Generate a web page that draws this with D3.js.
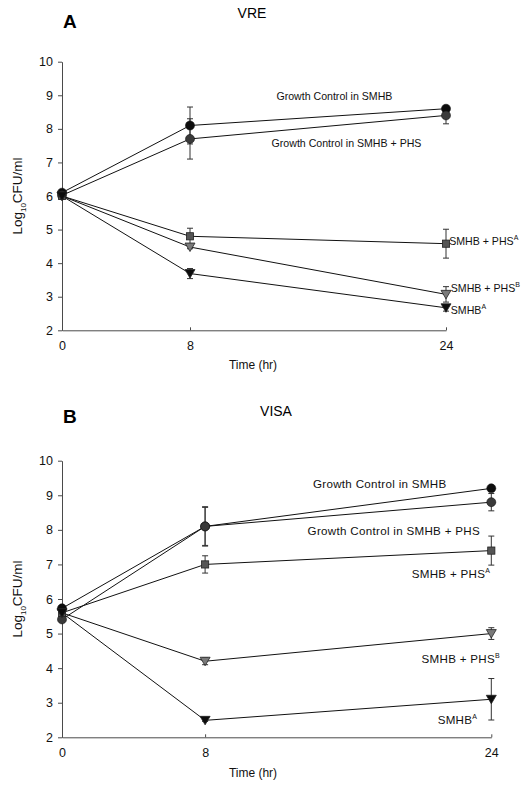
<!DOCTYPE html>
<html>
<head>
<meta charset="utf-8">
<script src="https://cdn.jsdelivr.net/npm/d3@7"></script>
<style>
  html, body { margin: 0; padding: 0; background: #fff; }
  svg { display: block; font-family: "Liberation Sans", Arial, sans-serif; }
</style>
</head>
<body>
<svg id="chart" width="525" height="795"></svg>
<script>
// ---------------- DATA ----------------
const times = [0, 8, 24];
const xTickLabels = ["0", "8", "24"];
const yTickValues = [2, 3, 4, 5, 6, 7, 8, 9, 10];

const seriesKeys = ["gcSMHB", "gcPHS", "phsA", "phsB", "smhbA"];

// Panel A: VRE
const vreGcSMHB   = [6.1, 8.1, 8.6];
const vreGcPHS    = [6.02, 7.7, 8.4];
const vrePhsA     = [6.0, 4.8, 4.58];
const vrePhsB     = [6.0, 4.48, 3.07];
const vreSmhbA    = [6.0, 3.69, 2.67];
const vreErrGcSMHB = [0, 0.55, 0.05];
const vreErrGcPHS  = [0, 0.6, 0.25];
const vreErrPhsA   = [0, 0.24, 0.43];
const vreErrPhsB   = [0, 0.05, 0.23];
const vreErrSmhbA  = [0, 0.15, 0.1];

// Panel B: VISA
const visaGcSMHB  = [5.73, 8.1, 9.2];
const visaGcPHS   = [5.41, 8.1, 8.8];
const visaPhsA    = [5.6, 7.0, 7.4];
const visaPhsB    = [5.6, 4.2, 5.0];
const visaSmhbA   = [5.6, 2.49, 3.1];
const visaErrGcSMHB = [0, 0.55, 0.03];
const visaErrGcPHS  = [0, 0.57, 0.25];
const visaErrPhsA   = [0, 0.25, 0.42];
const visaErrPhsB   = [0, 0.1, 0.17];
const visaErrSmhbA  = [0, 0.03, 0.6];

// Labels: text, superscript, anchor time, anchor value
const vreLabels = [
  {text: "Growth Control in SMHB", sup: "", t: 13.4, v: 8.97},
  {text: "Growth Control in SMHB + PHS", sup: "", t: 13.1, v: 7.58},
  {text: "SMHB + PHS", sup: "A", t: 24.2, v: 4.64},
  {text: "SMHB + PHS", sup: "B", t: 24.3, v: 3.24},
  {text: "SMHB", sup: "A", t: 24.3, v: 2.6}
];
const visaLabels = [
  {text: "Growth Control in SMHB", sup: "", t: 14.03, v: 9.33},
  {text: "Growth Control in SMHB + PHS", sup: "", t: 13.73, v: 7.97},
  {text: "SMHB + PHS", sup: "A", t: 19.55, v: 6.72},
  {text: "SMHB + PHS", sup: "B", t: 20.1, v: 4.26},
  {text: "SMHB", sup: "A", t: 21.0, v: 2.5}
];

// ---------------- STYLE / LAYOUT ----------------
const markerStyle = {
  gcSMHB: {shape: "circle", fill: "#0d0d0d"},
  gcPHS:  {shape: "circle", fill: "#3a3a3a"},
  phsA:   {shape: "square", fill: "#555"},
  phsB:   {shape: "tri",    fill: "#7a7a7a"},
  smhbA:  {shape: "tri",    fill: "#0d0d0d"}
};

const panels = [
  {
    letter: "A", title: "VRE",
    values: [vreGcSMHB, vreGcPHS, vrePhsA, vrePhsB, vreSmhbA],
    errs: [vreErrGcSMHB, vreErrGcPHS, vreErrPhsA, vreErrPhsB, vreErrSmhbA],
    labels: vreLabels,
    x0: 62, x1: 446, yTop: 61.7, yBot: 330.3,
    letterY: 28, titleX: 252, titleY: 13,
    xLabelY: 369, labelFont: 10.6
  },
  {
    letter: "B", title: "VISA",
    values: [visaGcSMHB, visaGcPHS, visaPhsA, visaPhsB, visaSmhbA],
    errs: [visaErrGcSMHB, visaErrGcPHS, visaErrPhsA, visaErrPhsB, visaErrSmhbA],
    labels: visaLabels,
    x0: 62, x1: 491.3, yTop: 460.7, yBot: 737.3,
    letterY: 423, titleX: 276, titleY: 411,
    xLabelY: 777, labelFont: 11.6
  }
];

const svg = d3.select("#chart");
const axisColor = "#4a4a4a";

panels.forEach(p => {
  const g = svg.append("g");
  const x = d3.scaleLinear().domain([0, 24]).range([p.x0, p.x1]);
  const y = d3.scaleLinear().domain([2, 10]).range([p.yBot, p.yTop]);

  // Panel letter and title
  g.append("text").attr("x", 63).attr("y", p.letterY)
    .attr("font-weight", "bold").attr("font-size", 19).text(p.letter);
  g.append("text").attr("x", p.titleX).attr("y", p.titleY + 5)
    .attr("text-anchor", "middle").attr("font-size", 14).text(p.title);

  // Y axis
  const yAxis = d3.axisLeft(y).tickValues(yTickValues).tickFormat(d3.format("d"))
    .tickSizeInner(4).tickSizeOuter(0).tickPadding(5);
  const gy = g.append("g").attr("transform", `translate(${p.x0},0)`).call(yAxis);
  gy.selectAll("path, line").attr("stroke", axisColor);
  gy.selectAll("text").attr("font-size", 12.5).attr("fill", "#111")
    .attr("font-family", "'Liberation Sans', Arial, sans-serif");

  // X axis
  const xAxis = d3.axisBottom(x).tickValues(times).tickFormat((d, i) => xTickLabels[i])
    .tickSizeInner(-3).tickSizeOuter(0).tickPadding(11);
  const gx = g.append("g").attr("transform", `translate(0,${p.yBot})`).call(xAxis);
  gx.selectAll("path, line").attr("stroke", axisColor);
  gx.selectAll("text").attr("font-size", 12.5).attr("fill", "#111")
    .attr("font-family", "'Liberation Sans', Arial, sans-serif");

  // Axis titles
  g.append("text").attr("x", 253).attr("y", p.xLabelY)
    .attr("text-anchor", "middle").attr("font-size", 12).attr("fill", "#111")
    .text("Time (hr)");
  const yl = g.append("text")
    .attr("transform", `translate(22,${(p.yTop + p.yBot) / 2}) rotate(-90)`)
    .attr("text-anchor", "middle").attr("font-size", 13.5).attr("fill", "#111");
  yl.append("tspan").text("Log");
  yl.append("tspan").attr("font-size", 8).attr("dy", 4).text("10");
  yl.append("tspan").attr("dy", -4).text("CFU/ml");

  // Lines
  const line = d3.line().x((d, i) => x(times[i])).y(d => y(d));
  p.values.forEach(vals => {
    g.append("path").attr("d", line(vals)).attr("fill", "none")
      .attr("stroke", "#111").attr("stroke-width", 1);
  });

  // Error bars
  p.values.forEach((vals, si) => {
    vals.forEach((v, i) => {
      const e = p.errs[si][i];
      if (!e) return;
      const cx = x(times[i]);
      const eg = g.append("g").attr("stroke", "#333").attr("stroke-width", 1);
      eg.append("line").attr("x1", cx).attr("x2", cx).attr("y1", y(v - e)).attr("y2", y(v + e));
      eg.append("line").attr("x1", cx - 3).attr("x2", cx + 3).attr("y1", y(v - e)).attr("y2", y(v - e));
      eg.append("line").attr("x1", cx - 3).attr("x2", cx + 3).attr("y1", y(v + e)).attr("y2", y(v + e));
    });
  });

  // Markers
  p.values.forEach((vals, si) => {
    const st = markerStyle[seriesKeys[si]];
    vals.forEach((v, i) => {
      const cx = x(times[i]), cy = y(v);
      if (st.shape === "circle") {
        g.append("circle").attr("cx", cx).attr("cy", cy).attr("r", 4.5)
          .attr("fill", st.fill).attr("stroke", "#111").attr("stroke-width", 0.6);
      } else if (st.shape === "square") {
        g.append("rect").attr("x", cx - 3.6).attr("y", cy - 3.6).attr("width", 7.2).attr("height", 7.2)
          .attr("fill", st.fill).attr("stroke", "#222").attr("stroke-width", 0.8);
      } else {
        g.append("path")
          .attr("d", `M${cx - 5},${cy - 4}L${cx + 5},${cy - 4}L${cx},${cy + 4.5}Z`)
          .attr("fill", st.fill).attr("stroke", "#222").attr("stroke-width", 0.8);
      }
    });
  });

  // Series labels
  p.labels.forEach(l => {
    const t = g.append("text").attr("x", x(l.t)).attr("y", y(l.v))
      .attr("dy", "0.35em").attr("font-size", p.labelFont).attr("fill", "#111")
      .attr("letter-spacing", p.labelFont > 11 ? 0.3 : 0);
    t.append("tspan").text(l.text);
    if (l.sup) t.append("tspan").attr("font-size", 7).attr("dy", -5).text(l.sup);
  });
});
</script>
</body>
</html>
